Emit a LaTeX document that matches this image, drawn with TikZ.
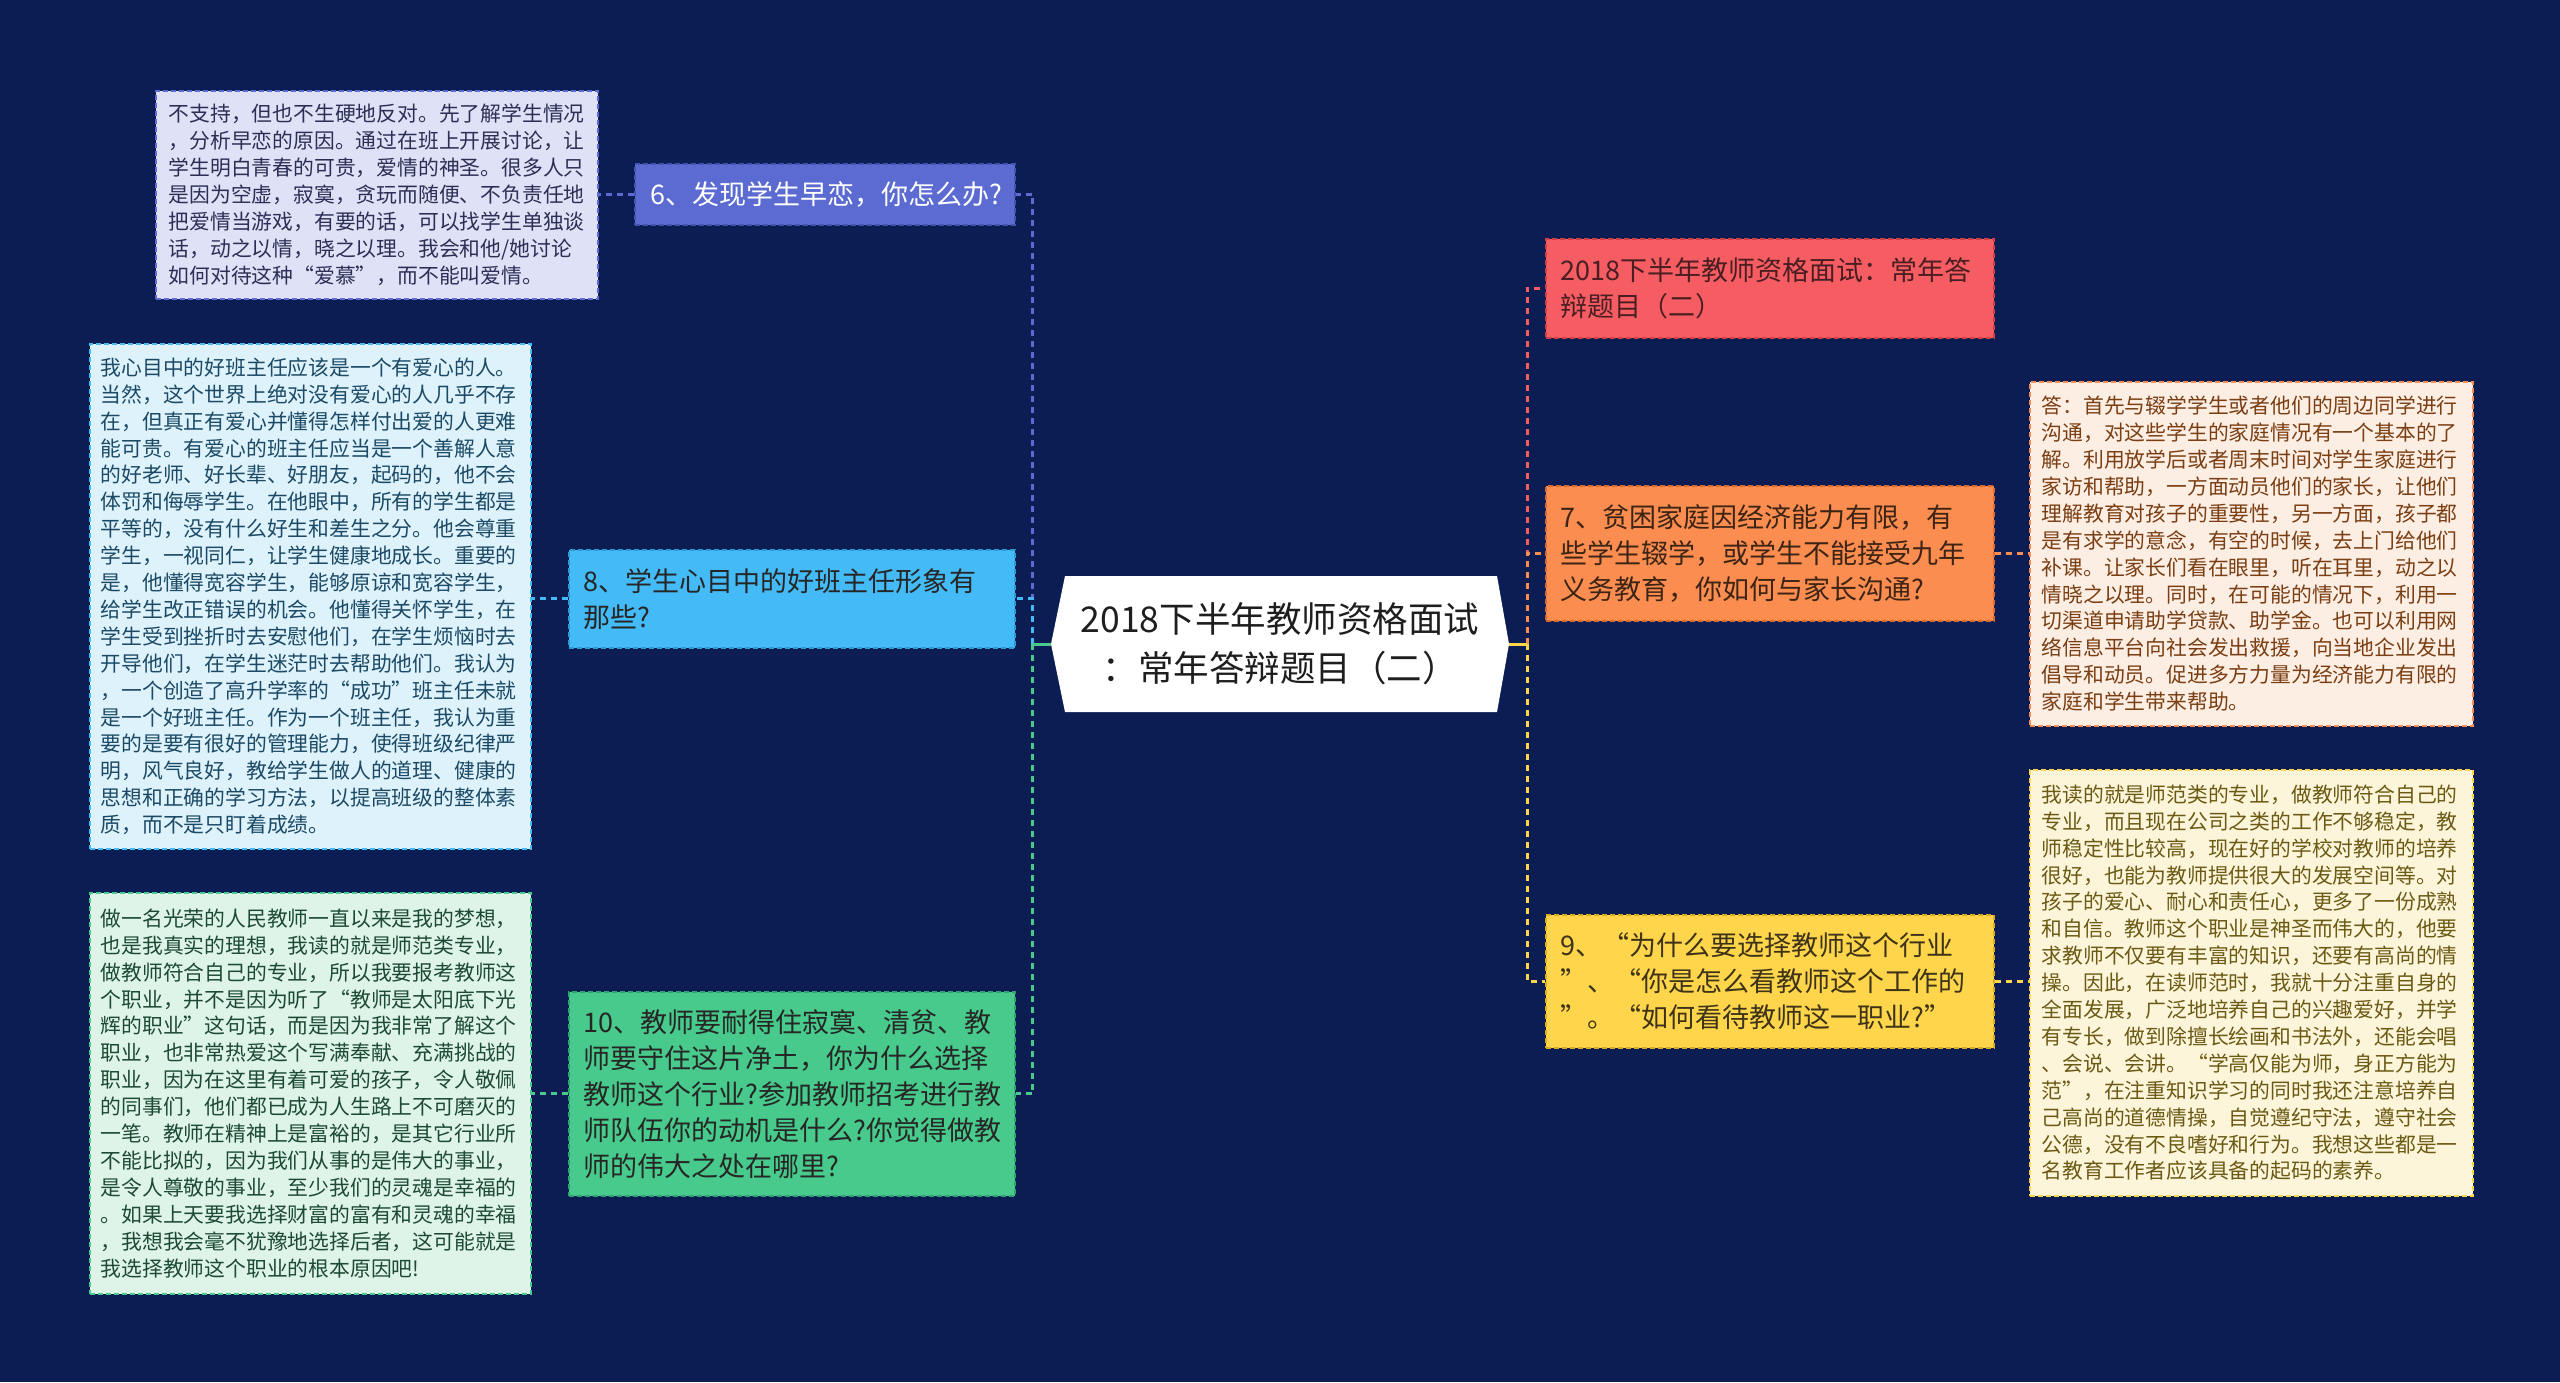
\documentclass[tikz,border=0pt]{standalone}
\usepackage{fontspec}
\setmainfont{Noto Sans CJK SC}
\usetikzlibrary{calc}
\definecolor{bgc}{HTML}{0B1D52}
\definecolor{cA}{HTML}{5B6BD2}\definecolor{cAd}{HTML}{4353B0}
\definecolor{cB}{HTML}{44BBF6}\definecolor{cBd}{HTML}{2F9AD0}
\definecolor{cC}{HTML}{47CA8B}\definecolor{cCd}{HTML}{2FA56C}
\definecolor{cD}{HTML}{F65D63}\definecolor{cDd}{HTML}{D04046}
\definecolor{cE}{HTML}{FB8D50}\definecolor{cEd}{HTML}{D86A30}
\definecolor{cF}{HTML}{FFD54B}\definecolor{cFd}{HTML}{D8AC20}
\definecolor{dA}{HTML}{DFE2F6}\definecolor{dAt}{HTML}{2B2F55}
\definecolor{dB}{HTML}{DDF2FB}\definecolor{dBt}{HTML}{1C4A66}
\definecolor{dC}{HTML}{DFF4E9}\definecolor{dCt}{HTML}{1C4A32}
\definecolor{dE}{HTML}{FDEEE4}\definecolor{dEt}{HTML}{7A3E12}
\definecolor{dF}{HTML}{FDF5DA}\definecolor{dFt}{HTML}{6B5A14}
\definecolor{rootc}{HTML}{1E1E1E}
\begin{document}
\begin{tikzpicture}[x=1pt,y=-1pt,
  titlebox/.style={anchor=north west, inner xsep=15pt, inner ysep=0pt, align=left,
    font=\fontsize{27pt}{36pt}\selectfont, line width=1.5pt, dash pattern=on 5pt off 3pt},
  detailbox/.style={anchor=north west, inner xsep=12pt, inner ysep=0pt, align=left,
    font=\fontsize{20.8pt}{26.9pt}\selectfont, line width=1.5pt, dash pattern=on 5pt off 3pt},
  conn/.style={line width=3pt, dash pattern=on 6pt off 5pt},
  stub/.style={line width=3pt}]
\fill[bgc] (0,0) rectangle (2560,1382);
\useasboundingbox (0,0) rectangle (2560,1382);

% central hexagon
\fill[white] (1051,644) -- (1065,576) -- (1497,576) -- (1509,644) -- (1497,712) -- (1065,712) -- cycle;
\node[font=\fontsize{35.5pt}{49pt}\selectfont, align=center, minimum width=458pt, minimum height=136pt,
  inner sep=0pt, text=rootc] (root) at (1280,644) {2018下半年教师资格面试\\：常年答辩题目（二）};

% left titles
\node[titlebox, fill=cA, draw=cAd, text=white, text width=348pt, minimum height=61pt, inner xsep=16pt] (n6) at (634,163)
  {6、发现学生早恋，你怎么办?};
\node[titlebox, fill=cB, draw=cBd, text=black!85, text width=416pt, minimum height=98pt] (n8) at (568,549)
  {8、学生心目中的好班主任形象有\\那些?};
\node[titlebox, fill=cC, draw=cCd, text=black!85, text width=416pt, minimum height=204pt] (n10) at (568,991)
  {10、教师要耐得住寂寞、清贫、教\\师要守住这片净土，你为什么选择\\教师这个行业?参加教师招考进行教\\师队伍你的动机是什么?你觉得做教\\师的伟大之处在哪里?};

% right titles
\node[titlebox, fill=cD, draw=cDd, text={rgb,255:red,74;green,30;blue,34}, text width=418pt, minimum height=99pt] (n2) at (1545,238)
  {2018下半年教师资格面试：常年答\\辩题目（二）};
\node[titlebox, fill=cE, draw=cEd, text={rgb,255:red,61;green,36;blue,20}, text width=418pt, minimum height=135pt] (n7) at (1545,485)
  {7、贫困家庭因经济能力有限，有\\些学生辍学，或学生不能接受九年\\义务教育，你如何与家长沟通?};
\node[titlebox, fill=cF, draw=cFd, text={rgb,255:red,61;green,51;blue,24}, text width=418pt, minimum height=133pt] (n9) at (1545,914)
  {9、“为什么要选择教师这个行业\\”、“你是怎么看教师这个工作的\\”。“如何看待教师这一职业?”};

% detail boxes
\node[detailbox, fill=dA, draw=cA, text=dAt, text width=416pt, minimum height=208pt, inner xsep=13pt] (d6) at (155,90)
  {不支持，但也不生硬地反对。先了解学生情况\\，分析早恋的原因。通过在班上开展讨论，让\\学生明白青春的可贵，爱情的神圣。很多人只\\是因为空虚，寂寞，贪玩而随便、不负责任地\\把爱情当游戏，有要的话，可以找学生单独谈\\话，动之以情，晓之以理。我会和他/她讨论\\如何对待这种“爱慕”，而不能叫爱情。};
\node[detailbox, fill=dB, draw=cB, text=dBt, text width=419pt, minimum height=505pt, inner xsep=11pt] (d8) at (89,343)
  {我心目中的好班主任应该是一个有爱心的人。\\当然，这个世界上绝对没有爱心的人几乎不存\\在，但真正有爱心并懂得怎样付出爱的人更难\\能可贵。有爱心的班主任应当是一个善解人意\\的好老师、好长辈、好朋友，起码的，他不会\\体罚和侮辱学生。在他眼中，所有的学生都是\\平等的，没有什么好生和差生之分。他会尊重\\学生，一视同仁，让学生健康地成长。重要的\\是，他懂得宽容学生，能够原谅和宽容学生，\\给学生改正错误的机会。他懂得关怀学生，在\\学生受到挫折时去安慰他们，在学生烦恼时去\\开导他们，在学生迷茫时去帮助他们。我认为\\，一个创造了高升学率的“成功”班主任未就\\是一个好班主任。作为一个班主任，我认为重\\要的是要有很好的管理能力，使得班级纪律严\\明，风气良好，教给学生做人的道理、健康的\\思想和正确的学习方法，以提高班级的整体素\\质，而不是只盯着成绩。};
\node[detailbox, fill=dC, draw=cC, text=dCt, text width=419pt, minimum height=401pt, inner xsep=11pt] (d10) at (89,892)
  {做一名光荣的人民教师一直以来是我的梦想，\\也是我真实的理想，我读的就是师范类专业，\\做教师符合自己的专业，所以我要报考教师这\\个职业，并不是因为听了“教师是太阳底下光\\辉的职业”这句话，而是因为我非常了解这个\\职业，也非常热爱这个写满奉献、充满挑战的\\职业，因为在这里有着可爱的孩子，令人敬佩\\的同事们，他们都已成为人生路上不可磨灭的\\一笔。教师在精神上是富裕的，是其它行业所\\不能比拟的，因为我们从事的是伟大的事业，\\是令人尊敬的事业，至少我们的灵魂是幸福的\\。如果上天要我选择财富的富有和灵魂的幸福\\，我想我会毫不犹豫地选择后者，这可能就是\\我选择教师这个职业的根本原因吧!};
\node[detailbox, fill=dE, draw=cE, text=dEt, text width=419pt, minimum height=344pt] (d7) at (2029,381)
  {答：首先与辍学学生或者他们的周边同学进行\\沟通，对这些学生的家庭情况有一个基本的了\\解。利用放学后或者周末时间对学生家庭进行\\家访和帮助，一方面动员他们的家长，让他们\\理解教育对孩子的重要性，另一方面，孩子都\\是有求学的意念，有空的时候，去上门给他们\\补课。让家长们看在眼里，听在耳里，动之以\\情晓之以理。同时，在可能的情况下，利用一\\切渠道申请助学贷款、助学金。也可以利用网\\络信息平台向社会发出救援，向当地企业发出\\倡导和动员。促进多方力量为经济能力有限的\\家庭和学生带来帮助。};
\node[detailbox, fill=dF, draw=cF, text=dFt, text width=419pt, minimum height=426pt] (d9) at (2029,769)
  {我读的就是师范类的专业，做教师符合自己的\\专业，而且现在公司之类的工作不够稳定，教\\师稳定性比较高，现在好的学校对教师的培养\\很好，也能为教师提供很大的发展空间等。对\\孩子的爱心、耐心和责任心，更多了一份成熟\\和自信。教师这个职业是神圣而伟大的，他要\\求教师不仅要有丰富的知识，还要有高尚的情\\操。因此，在读师范时，我就十分注重自身的\\全面发展，广泛地培养自己的兴趣爱好，并学\\有专长，做到除擅长绘画和书法外，还能会唱\\、会说、会讲。“学高仅能为师，身正方能为\\范”，在注重知识学习的同时我还注意培养自\\己高尚的道德情操，自觉遵纪守法，遵守社会\\公德，没有不良嗜好和行为。我想这些都是一\\名教育工作者应该具备的起码的素养。};

% connectors
\coordinate (jl) at ($(root.west)+(-18,0)$);
\coordinate (jr) at ($(root.east)+(18,0)$);
\draw[conn,cA] (jl) |- (n6.east);
\draw[conn,cB] (jl) |- (n8.east);
\draw[conn,cC] (jl) |- (n10.east);
\draw[stub,cC] (root.west) -- (jl);
\draw[conn,cD] (jr) |- (n2.west);
\draw[conn,cE] (jr) |- (n7.west);
\draw[conn,cF] (jr) |- (n9.west);
\draw[stub,cF] (root.east) -- (jr);
\draw[conn,cA] (n6.west) -- (n6.west -| d6.east);
\draw[conn,cB] (n8.west) -- (n8.west -| d8.east);
\draw[conn,cC] (n10.west) -- (n10.west -| d10.east);
\draw[conn,cE] (n7.east) -- (n7.east -| d7.west);
\draw[conn,cF] (n9.east) -- (n9.east -| d9.west);
\end{tikzpicture}
\end{document}
